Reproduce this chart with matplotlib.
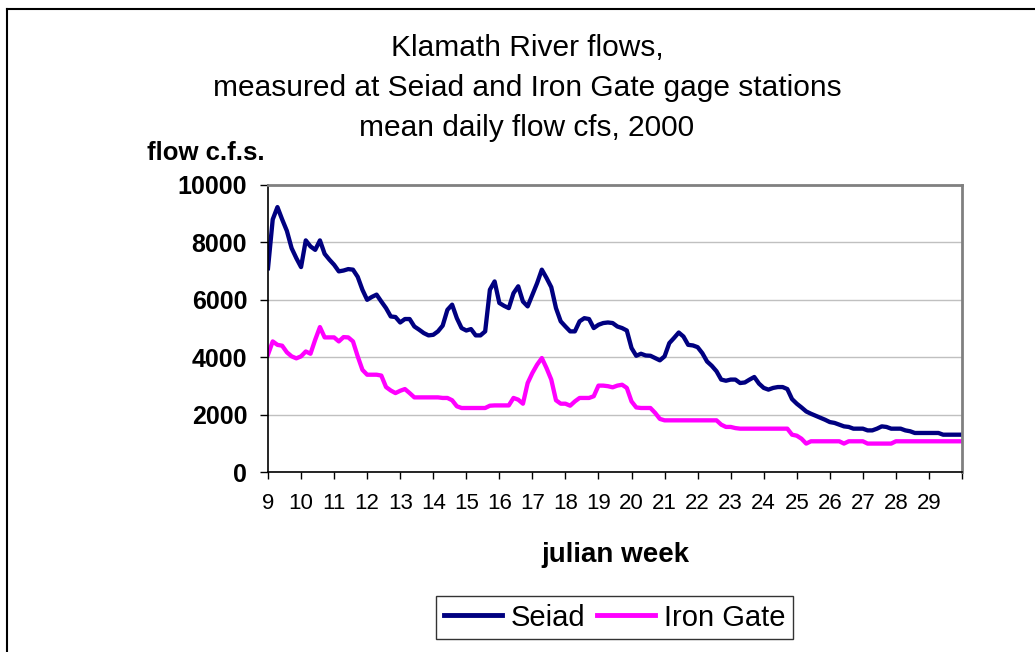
import numpy as np
import matplotlib
matplotlib.use("Agg")
import matplotlib.pyplot as plt
from matplotlib.lines import Line2D

plt.rcParams['font.family'] = ['Liberation Sans', 'DejaVu Sans']

# mean daily flow (cfs), one value per day starting at julian week 9
seiad = [7100, 8800, 9230, 8800, 8400, 7800, 7450, 7140, 8070, 7860,
         7740, 8070, 7600, 7400, 7220, 6990, 7020, 7070, 7050, 6800,
         6350, 6000, 6100, 6180, 5940, 5710, 5420, 5400, 5210, 5330,
         5330, 5070, 4960, 4840, 4760, 4780, 4900, 5100, 5650, 5830,
         5360, 5015, 4930, 4980, 4760, 4760, 4900, 6350, 6640, 5890,
         5790, 5710, 6230, 6470, 5940, 5770, 6180, 6580, 7050, 6760,
         6440, 5710, 5250, 5070, 4900, 4900, 5250, 5360, 5330, 5015,
         5130, 5190, 5210, 5190, 5070, 5015, 4930, 4320, 4050, 4120,
         4060, 4050, 3970, 3890, 4030, 4490, 4670, 4860, 4720, 4430,
         4410, 4350, 4140, 3850, 3700, 3510, 3220, 3180, 3220, 3220,
         3100, 3120, 3220, 3310, 3080, 2930, 2870, 2930, 2960, 2960,
         2890, 2540, 2380, 2250, 2110, 2030, 1960, 1890, 1820, 1740,
         1710, 1650, 1590, 1570, 1510, 1510, 1510, 1450, 1450, 1510,
         1590, 1570, 1510, 1510, 1510, 1450, 1420, 1360, 1360, 1360,
         1360, 1360, 1360, 1300, 1300, 1300, 1300, 1300]

iron_gate = [4090, 4550, 4430, 4400, 4170, 4030, 3960, 4030, 4200, 4120,
             4610, 5050, 4690, 4690, 4690, 4550, 4700, 4690, 4550, 4030,
             3560, 3390, 3390, 3390, 3360, 2960, 2840, 2750, 2830, 2890,
             2750, 2600, 2600, 2600, 2600, 2600, 2600, 2580, 2580, 2500,
             2290, 2230, 2230, 2230, 2230, 2230, 2230, 2310, 2320, 2320,
             2320, 2320, 2580, 2520, 2380, 3100, 3450, 3740, 3970, 3620,
             3220, 2500, 2380, 2380, 2310, 2460, 2580, 2580, 2580, 2640,
             3010, 3010, 2990, 2950, 3010, 3040, 2930, 2460, 2250, 2230,
             2230, 2230, 2060, 1850, 1800, 1800, 1800, 1800, 1800, 1800,
             1800, 1800, 1800, 1800, 1800, 1800, 1650, 1570, 1570, 1530,
             1510, 1510, 1510, 1510, 1510, 1510, 1510, 1510, 1510, 1510,
             1510, 1300, 1265, 1160, 990, 1070, 1070, 1070, 1070, 1070,
             1070, 1070, 990, 1070, 1070, 1070, 1070, 990, 990, 990,
             990, 990, 990, 1070, 1070, 1070, 1070, 1070, 1070, 1070,
             1070, 1070, 1070, 1070, 1070, 1070, 1070, 1070]

first_week = 9
week_ticks = list(range(9, 31))
week_labels = [str(w) for w in range(9, 30)] + ['']
flow_ticks = [0, 2000, 4000, 6000, 8000, 10000]

title_lines = ['Klamath River flows,',
               'measured at Seiad and Iron Gate gage stations',
               'mean daily flow cfs, 2000']

W, H = 1035, 652
fig = plt.figure(figsize=(W / 100, H / 100), dpi=100)
ax = fig.add_axes([268 / W, 1 - 472 / H, (962 - 268) / W, (472 - 185) / H])

week = first_week + np.arange(len(seiad)) / 7
ax.plot(week, seiad, color='#000080', lw=3.1, label='Seiad', solid_joinstyle='round')
ax.plot(week, iron_gate, color='#FF00FF', lw=3.1, label='Iron Gate', solid_joinstyle='round')

ax.set_xlim(9, 30)
ax.set_ylim(0, 10000)
ax.set_xticks(week_ticks)
ax.set_xticklabels(week_labels)
ax.set_yticks(flow_ticks)
ax.set_yticklabels([str(v) for v in flow_ticks], fontweight='bold')
ax.tick_params(axis='x', labelsize=16, length=5, width=1, direction='out', pad=10)
ax.tick_params(axis='y', labelsize=18, length=6, width=1, direction='out', pad=9)
ax.yaxis.grid(True, color='#C0C0C0', lw=1)
ax.set_axisbelow(True)
for side in ['left', 'bottom']:
    ax.spines[side].set_color('black')
    ax.spines[side].set_linewidth(1.2)
for side in ['top', 'right']:
    ax.spines[side].set_color('#808080')
    ax.spines[side].set_linewidth(2)

ax.set_xlabel('julian week', fontsize=20, fontweight='bold', labelpad=20)
fig.text(147 / W, 1 - 160 / H, 'flow c.f.s.', fontsize=18.5, fontweight='bold',
         ha='left', va='baseline')

for k, line in enumerate(title_lines):
    fig.text(527 / W, 1 - (56 + 40 * k) / H, line, fontsize=21.5,
             ha='center', va='baseline')

leg = ax.legend(loc='center', bbox_to_anchor=(614.5 / W, 1 - 617.5 / H),
                bbox_transform=fig.transFigure, ncol=2, fontsize=21,
                frameon=True, fancybox=False, edgecolor='black',
                handlelength=2.0, handletextpad=0.3, columnspacing=0.4,
                borderpad=0.25, borderaxespad=0)
leg.get_frame().set_linewidth(1)
for h in leg.get_lines():
    h.set_linewidth(3.5)

# chart area border
fig.add_artist(Line2D([7 / W, 7 / W], [0, 1 - 9 / H], transform=fig.transFigure,
                      color='black', lw=1.5))
fig.add_artist(Line2D([7 / W, 1], [1 - 9 / H, 1 - 9 / H], transform=fig.transFigure,
                      color='black', lw=1.5))

fig.savefig('out.png', dpi=100, facecolor='white')
